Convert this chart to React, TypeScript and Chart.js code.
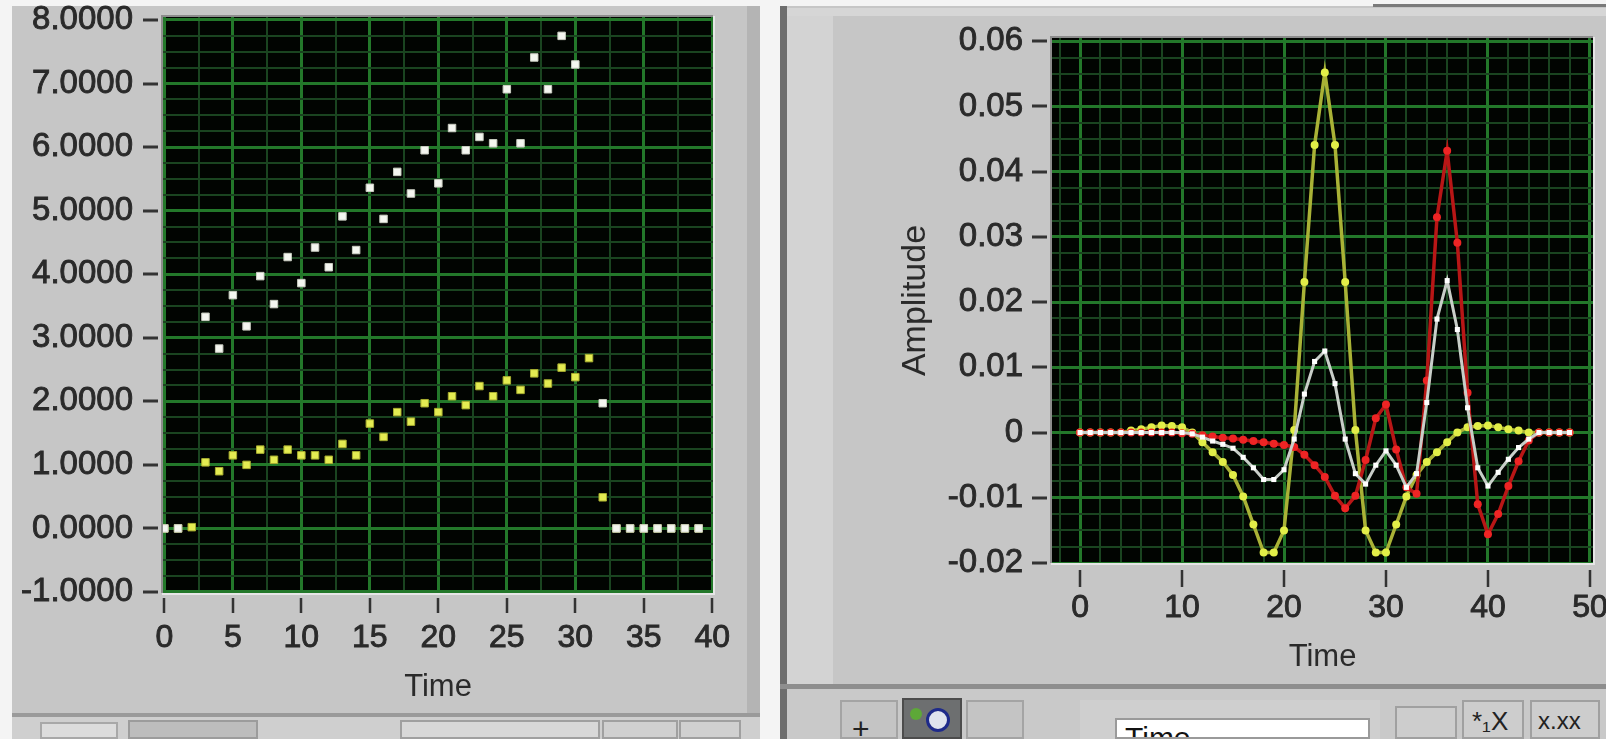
import React, { useEffect, useRef } from 'react';
import { Chart, registerables } from 'chart.js';

Chart.register(...registerables);

// ---------------- LEFT CHART DATA ----------------
const LEFT_TIME = [0, 1, 2, 3, 4, 5, 6, 7, 8, 9, 10, 11, 12, 13, 14, 15, 16, 17, 18, 19, 20, 21, 22, 23, 24, 25, 26, 27, 28, 29, 30, 31, 32, 33, 34, 35, 36, 37, 38, 39];
const LEFT_WHITE = [0, 0, null, 3.33, 2.83, 3.67, 3.18, 3.97, 3.53, 4.27, 3.86, 4.42, 4.11, 4.91, 4.38, 5.36, 4.87, 5.61, 5.27, 5.95, 5.43, 6.30, 5.95, 6.16, 6.06, 6.91, 6.06, 7.41, 6.91, 7.75, 7.30, null, 1.97, 0, 0, 0, 0, 0, 0, 0];
const LEFT_YELLOW = [0, 0, 0.02, 1.04, 0.90, 1.15, 1.00, 1.24, 1.08, 1.24, 1.15, 1.15, 1.08, 1.33, 1.15, 1.65, 1.44, 1.83, 1.68, 1.97, 1.83, 2.08, 1.94, 2.24, 2.08, 2.33, 2.18, 2.44, 2.28, 2.53, 2.38, 2.68, 0.49, 0, 0, 0, 0, 0, 0, 0];
const LEFT_X_LABELS = [0, 5, 10, 15, 20, 25, 30, 35, 40];
const LEFT_Y_LABELS = [-1, 0, 1, 2, 3, 4, 5, 6, 7, 8];

// ---------------- RIGHT CHART DATA ----------------
const RIGHT_TIME = [0, 1, 2, 3, 4, 5, 6, 7, 8, 9, 10, 11, 12, 13, 14, 15, 16, 17, 18, 19, 20, 21, 22, 23, 24, 25, 26, 27, 28, 29, 30, 31, 32, 33, 34, 35, 36, 37, 38, 39, 40, 41, 42, 43, 44, 45, 46, 47, 48];
const RIGHT_YELLOW = [0, 0, 0, 0, 0, 0.0003, 0.0005, 0.0008, 0.0011, 0.001, 0.0008, 0, -0.0015, -0.003, -0.0045, -0.0065, -0.0098, -0.0141, -0.0184, -0.0184, -0.015, 0.0004, 0.0231, 0.0441, 0.0552, 0.0441, 0.0231, 0.0004, -0.015, -0.0184, -0.0184, -0.0141, -0.0098, -0.0065, -0.0045, -0.003, -0.0015, 0, 0.0008, 0.001, 0.0011, 0.0008, 0.0005, 0.0003, 0, 0, 0, 0, 0];
const RIGHT_RED = [0, 0, 0, 0, 0, 0, 0, 0, 0, 0, -0.0001, -0.0002, -0.0004, -0.0006, -0.0008, -0.0009, -0.0011, -0.0013, -0.0015, -0.0017, -0.0019, -0.0022, -0.0034, -0.005, -0.0068, -0.0097, -0.0116, -0.0097, -0.0042, 0.0022, 0.0043, -0.0026, -0.0084, -0.0094, 0.008, 0.033, 0.0432, 0.0291, 0.0061, -0.011, -0.0156, -0.0125, -0.0082, -0.0044, -0.0012, 0, 0, 0, 0];
const RIGHT_WHITE = [0, 0, 0, 0, 0, 0, 0, 0, 0, 0, 0, -0.0002, -0.0007, -0.0013, -0.0018, -0.0024, -0.0038, -0.0054, -0.0072, -0.0072, -0.0057, -0.001, 0.0059, 0.0109, 0.0125, 0.0075, -0.001, -0.0063, -0.0079, -0.005, -0.0028, -0.005, -0.0084, -0.0063, 0.0046, 0.0174, 0.0233, 0.0158, 0.0038, -0.0054, -0.0082, -0.0061, -0.0041, -0.0023, -0.001, 0, 0, 0, 0];
const RIGHT_X_LABELS = [0, 10, 20, 30, 40, 50];
const RIGHT_Y_LABELS = [-0.02, -0.01, 0, 0.01, 0.02, 0.03, 0.04, 0.05, 0.06];

// ---------------- helpers ----------------
const FONT = "'Liberation Sans', Arial, sans-serif";
const TEXT = '#2a2a2a';
const GRID_MAJOR = '#23782a';
const GRID_MINOR = '#1a4420';

function subdivide(labels: number[], n: number): number[] {
  const out: number[] = [];
  for (let i = 0; i < labels.length; i++) {
    out.push(labels[i]);
    if (i < labels.length - 1) {
      for (let k = 1; k < n; k++) {
        out.push(Math.round((labels[i] + ((labels[i + 1] - labels[i]) * k) / n) * 1e6) / 1e6);
      }
    }
  }
  return out;
}

function isIn(labels: number[], v: number) {
  return labels.some((l) => Math.abs(l - v) < 1e-7);
}

function pairs(xs: number[], ys: (number | null)[]) {
  const out: { x: number; y: number }[] = [];
  xs.forEach((x, i) => {
    const y = ys[i];
    if (y !== null && y !== undefined) out.push({ x, y });
  });
  return out;
}

function zeroPad(s: any) {
  s.paddingTop = 0;
  s.paddingBottom = 0;
  s.paddingLeft = 0;
  s.paddingRight = 0;
}

type DecoCfg = {
  xLabels: number[];
  yLabels: number[];
  yDash: [number, number];
  xDash: [number, number];
};

function makeDeco(cfg: DecoCfg) {
  return {
    id: 'deco',
    beforeDraw(chart: any) {
      const { ctx, chartArea: a } = chart;
      ctx.save();
      ctx.fillStyle = '#010401';
      ctx.fillRect(a.left, a.top, a.right - a.left, a.bottom - a.top);
      ctx.restore();
    },
    afterDraw(chart: any) {
      const { ctx, chartArea: a, scales } = chart;
      ctx.save();
      // frame (inset look)
      ctx.lineWidth = 2;
      ctx.strokeStyle = '#8c8c8c';
      ctx.beginPath();
      ctx.moveTo(a.left - 1, a.bottom);
      ctx.lineTo(a.left - 1, a.top - 1);
      ctx.lineTo(a.right, a.top - 1);
      ctx.stroke();
      ctx.strokeStyle = '#e6e6e6';
      ctx.beginPath();
      ctx.moveTo(a.right + 1, a.top - 1);
      ctx.lineTo(a.right + 1, a.bottom + 1);
      ctx.lineTo(a.left - 1, a.bottom + 1);
      ctx.stroke();
      // tick marks
      ctx.strokeStyle = '#333333';
      ctx.lineWidth = 3;
      ctx.beginPath();
      cfg.yLabels.forEach((v) => {
        const y = Math.round(scales.y.getPixelForValue(v));
        ctx.moveTo(cfg.yDash[0], y);
        ctx.lineTo(cfg.yDash[1], y);
      });
      ctx.stroke();
      ctx.lineWidth = 2.5;
      ctx.beginPath();
      cfg.xLabels.forEach((v) => {
        const x = Math.round(scales.x.getPixelForValue(v));
        ctx.moveTo(x, cfg.xDash[0]);
        ctx.lineTo(x, cfg.xDash[1]);
      });
      ctx.stroke();
      ctx.restore();
    },
  };
}

function gridOpts(labels: number[]) {
  return {
    drawTicks: false,
    color: (c: any) => (c.tick && isIn(labels, c.tick.value) ? GRID_MAJOR : GRID_MINOR),
    lineWidth: (c: any) => (c.tick && isIn(labels, c.tick.value) ? 3 : 2),
  };
}

const TICK_STROKE = { textStrokeColor: TEXT, textStrokeWidth: 0.9 };

// ---------------- charts ----------------
function LeftChart() {
  const ref = useRef<HTMLCanvasElement | null>(null);
  useEffect(() => {
    if (!ref.current) return;
    const xTicks = subdivide(LEFT_X_LABELS, 2);
    const yTicks = subdivide(LEFT_Y_LABELS, 4);
    const chart = new Chart(ref.current, {
      type: 'scatter',
      data: {
        datasets: [
          {
            label: 'white',
            data: pairs(LEFT_TIME, LEFT_WHITE),
            pointStyle: 'rect',
            pointRadius: 5.3,
            backgroundColor: '#f4f6f0',
            borderColor: '#c8ccc0',
            borderWidth: 1,
          },
          {
            label: 'yellow',
            data: pairs(LEFT_TIME, LEFT_YELLOW),
            pointStyle: 'rect',
            pointRadius: 5.3,
            backgroundColor: '#e4ec52',
            borderColor: '#a8ae30',
            borderWidth: 1,
          },
        ],
      },
      options: {
        animation: false,
        responsive: false,
        devicePixelRatio: 1,
        events: [],
        layout: { padding: { left: 0, top: 17, right: 47, bottom: 0 } },
        plugins: { legend: { display: false }, tooltip: { enabled: false } },
        scales: {
          x: {
            type: 'linear',
            min: -0.1,
            max: 40.05,
            afterBuildTicks: (s: any) => {
              s.ticks = xTicks.map((v) => ({ value: v }));
            },
            afterFit: (s: any) => {
              s.height = 119;
              zeroPad(s);
            },
            border: { display: false },
            grid: gridOpts(LEFT_X_LABELS),
            ticks: {
              autoSkip: false,
              maxRotation: 0,
              padding: 26,
              color: TEXT,
              ...TICK_STROKE,
              font: { family: FONT, size: 32 },
              callback: (v: any) => (isIn(LEFT_X_LABELS, Number(v)) ? String(Math.round(Number(v))) : ''),
            },
            title: {
              display: true,
              text: 'Time',
              color: TEXT,
              font: { family: FONT, size: 31 },
              padding: { top: 0, bottom: 6 },
            },
          },
          y: {
            type: 'linear',
            min: -1.016,
            max: 8.047,
            afterBuildTicks: (s: any) => {
              s.ticks = yTicks.map((v) => ({ value: v }));
            },
            afterFit: (s: any) => {
              s.width = 163;
              zeroPad(s);
            },
            border: { display: false },
            grid: gridOpts(LEFT_Y_LABELS),
            ticks: {
              autoSkip: false,
              padding: 30,
              color: TEXT,
              ...TICK_STROKE,
              font: { family: FONT, size: 33 },
              callback: (v: any) => (isIn(LEFT_Y_LABELS, Number(v)) ? Number(v).toFixed(4) : ''),
            },
          },
        },
      },
      plugins: [makeDeco({ xLabels: LEFT_X_LABELS, yLabels: LEFT_Y_LABELS, yDash: [143, 158], xDash: [598, 613] })],
    } as any);
    return () => chart.destroy();
  }, []);
  return (
    <canvas
      ref={ref}
      width={760}
      height={712}
      style={{ position: 'absolute', left: 0, top: 0, width: 760, height: 712 }}
    />
  );
}

function RightChart() {
  const ref = useRef<HTMLCanvasElement | null>(null);
  useEffect(() => {
    if (!ref.current) return;
    const xTicks = [-2, ...subdivide(RIGHT_X_LABELS, 5)];
    const yTicks = subdivide(RIGHT_Y_LABELS, 4);
    const chart = new Chart(ref.current, {
      type: 'line',
      data: {
        datasets: [
          {
            label: 'white',
            data: pairs(RIGHT_TIME, RIGHT_WHITE),
            borderColor: '#c8cec8',
            borderWidth: 3,
            pointStyle: 'rect',
            pointRadius: 3.6,
            pointBackgroundColor: '#ffffff',
            pointBorderWidth: 0,
            tension: 0,
          },
          {
            label: 'red',
            data: pairs(RIGHT_TIME, RIGHT_RED),
            borderColor: '#b81616',
            borderWidth: 3.5,
            pointStyle: 'circle',
            pointRadius: 4,
            pointBackgroundColor: '#ee2424',
            pointBorderWidth: 0,
            tension: 0,
          },
          {
            label: 'yellow',
            data: pairs(RIGHT_TIME, RIGHT_YELLOW),
            borderColor: '#a9b236',
            borderWidth: 3.5,
            pointStyle: 'circle',
            pointRadius: 4,
            pointBackgroundColor: '#e2ee48',
            pointBorderWidth: 0,
            tension: 0,
          },
        ],
      },
      options: {
        animation: false,
        responsive: false,
        devicePixelRatio: 1,
        events: [],
        layout: { padding: { left: 0, top: 38, right: 13, bottom: 0 } },
        plugins: { legend: { display: false }, tooltip: { enabled: false } },
        scales: {
          x: {
            type: 'linear',
            min: -2.75,
            max: 50.3,
            afterBuildTicks: (s: any) => {
              s.ticks = xTicks.map((v) => ({ value: v }));
            },
            afterFit: (s: any) => {
              s.height = 137;
              zeroPad(s);
            },
            border: { display: false },
            grid: gridOpts(RIGHT_X_LABELS),
            ticks: {
              autoSkip: false,
              maxRotation: 0,
              padding: 26,
              color: TEXT,
              ...TICK_STROKE,
              font: { family: FONT, size: 32 },
              callback: (v: any) => (isIn(RIGHT_X_LABELS, Number(v)) ? String(Math.round(Number(v))) : ''),
            },
            title: {
              display: true,
              text: 'Time',
              color: TEXT,
              font: { family: FONT, size: 31 },
              padding: { top: 0, bottom: 24 },
            },
          },
          y: {
            type: 'linear',
            min: -0.02,
            max: 0.0605,
            afterBuildTicks: (s: any) => {
              s.ticks = yTicks.map((v) => ({ value: v }));
            },
            afterFit: (s: any) => {
              s.width = 272;
              zeroPad(s);
            },
            border: { display: false },
            grid: gridOpts(RIGHT_Y_LABELS),
            ticks: {
              autoSkip: false,
              padding: 29,
              color: TEXT,
              ...TICK_STROKE,
              font: { family: FONT, size: 33 },
              callback: (v: any) => {
                const n = Number(v);
                if (!isIn(RIGHT_Y_LABELS, n)) return '';
                return Math.abs(n) < 1e-9 ? '0' : n.toFixed(2);
              },
            },
            title: {
              display: true,
              text: 'Amplitude',
              color: TEXT,
              font: { family: FONT, size: 34 },
              padding: { top: 115, bottom: 0 },
            },
          },
        },
      },
      plugins: [makeDeco({ xLabels: RIGHT_X_LABELS, yLabels: RIGHT_Y_LABELS, yDash: [252, 267], xDash: [570, 587] })],
    } as any);
    return () => chart.destroy();
  }, []);
  return (
    <canvas
      ref={ref}
      width={826}
      height={700}
      style={{ position: 'absolute', left: 0, top: 0, width: 826, height: 700 }}
    />
  );
}

const PANEL = '#c6c6c6';

function Box(props: { l: number; t: number; w: number; h: number; bg?: string; border?: string; children?: any; extra?: any }) {
  return (
    <div
      style={{
        position: 'absolute',
        left: props.l,
        top: props.t,
        width: props.w,
        height: props.h,
        background: props.bg || PANEL,
        border: props.border,
        boxSizing: 'border-box',
        overflow: 'hidden',
        ...(props.extra || {}),
      }}
    >
      {props.children}
    </div>
  );
}

export default function App() {
  return (
    <div
      style={{
        position: 'fixed',
        left: 0,
        top: 0,
        width: 1606,
        height: 739,
        overflow: 'hidden',
        background: '#f4f4f4',
        fontFamily: FONT,
      }}
    >
      {/* left panel */}
      <Box l={12} t={6} w={748} h={707} bg={PANEL} extra={{ borderRight: '13px solid #b4b4b4' }} />
      <Box l={12} t={713} w={748} h={4} bg="#9a9a9a" />
      <Box l={12} t={717} w={748} h={22} bg="#cfcfcf" />
      <Box l={40} t={722} w={78} h={17} bg="#dcdcdc" border="2px solid #a8a8a8" />
      <Box l={128} t={720} w={130} h={19} bg="#bdbdbd" border="2px solid #9c9c9c" />
      <Box l={400} t={720} w={200} h={19} bg="#d8d8d8" border="2px solid #a0a0a0" />
      <Box l={602} t={720} w={76} h={19} bg="#d0d0d0" border="2px solid #a0a0a0" />
      <Box l={679} t={720} w={62} h={19} bg="#d0d0d0" border="2px solid #a0a0a0" />
      <div style={{ position: 'absolute', left: 0, top: 0, width: 760, height: 712 }}>
        <LeftChart />
      </div>

      {/* right panel */}
      <Box l={780} t={6} w={826} h={680} bg={PANEL} extra={{ borderLeft: '7px solid #6e6e6e' }} />
      <Box l={787} t={8} w={46} h={676} bg="#d3d3d3" />
      <Box l={787} t={8} w={819} h={8} bg="#d6d6d6" />
      <Box l={1373} t={4} w={233} h={3} bg="#7a7a7a" />
      <Box l={780} t={684} w={826} h={5} bg="#8e8e8e" />
      <Box l={780} t={689} w={826} h={50} bg="#c9c9c9" extra={{ borderLeft: '7px solid #6e6e6e' }} />
      <Box l={840} t={700} w={58} h={39} bg="#c4c4c4" border="2px solid #a4a4a4">
        <div style={{ position: 'absolute', left: 10, top: 12, fontSize: 30, color: '#222', lineHeight: '30px' }}>+</div>
      </Box>
      <Box l={902} t={698} w={60} h={41} bg="#6d6f70" border="2px solid #4c4c4c">
        <div style={{ position: 'absolute', left: 22, top: 8, width: 24, height: 24, borderRadius: 12, background: '#dfe3ee', border: '3px solid #1e2a8a', boxSizing: 'border-box' }} />
        <div style={{ position: 'absolute', left: 6, top: 8, width: 12, height: 12, borderRadius: 6, background: '#5da838' }} />
      </Box>
      <Box l={966} t={700} w={58} h={39} bg="#c4c4c4" border="2px solid #a4a4a4" />
      <Box l={1080} t={700} w={300} h={39} bg="#cfcfcf" />
      <Box l={1115} t={718} w={255} h={21} bg="#ffffff" border="2px solid #9a9a9a">
        <div style={{ position: 'absolute', left: 8, top: 3, fontSize: 30, color: '#111', lineHeight: '30px' }}>Time</div>
      </Box>
      <Box l={1395} t={706} w={62} h={33} bg="#cdcdcd" border="2px solid #a0a0a0" />
      <Box l={1462} t={700} w={62} h={39} bg="#cdcdcd" border="2px solid #a0a0a0">
        <div style={{ position: 'absolute', left: 8, top: 6, fontSize: 26, color: '#222', lineHeight: '26px' }}>*₁X</div>
      </Box>
      <Box l={1530} t={700} w={70} h={39} bg="#cdcdcd" border="2px solid #a0a0a0">
        <div style={{ position: 'absolute', left: 6, top: 6, fontSize: 24, color: '#222', lineHeight: '26px' }}>x.xx</div>
      </Box>
      <div style={{ position: 'absolute', left: 780, top: 0, width: 826, height: 700 }}>
        <RightChart />
      </div>
    </div>
  );
}
